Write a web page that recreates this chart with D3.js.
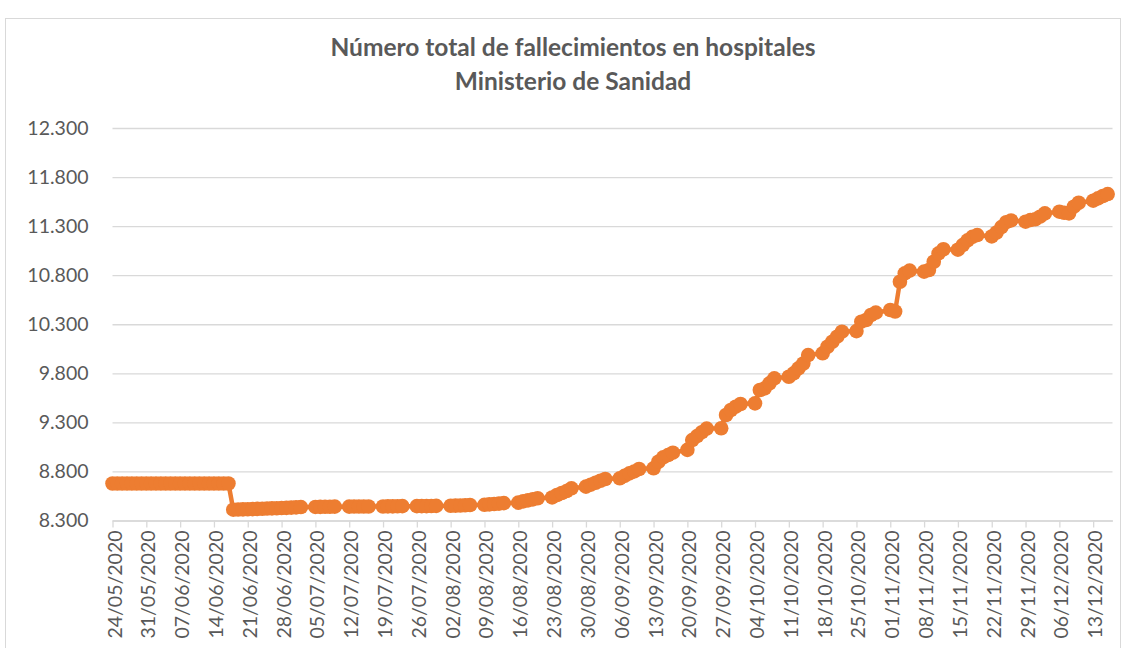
<!DOCTYPE html>
<html>
<head>
<meta charset="utf-8">
<script src="https://cdn.jsdelivr.net/npm/d3@7"></script>
<style>
  html, body { margin: 0; padding: 0; background: #fff; }
  svg { display: block; font-family: Lato, "Open Sans", sans-serif; }
</style>
</head>
<body>
<svg id="chart" width="1129" height="648"></svg>
<script>
'use strict';

const titulo = ["Número total de fallecimientos en hospitales", "Ministerio de Sanidad"];

// fechas con dato (a partir de julio solo de domingo a jueves)
const fechas = [
  "24/05/2020","25/05/2020","26/05/2020","27/05/2020","28/05/2020","29/05/2020","30/05/2020","31/05/2020",
  "01/06/2020","02/06/2020","03/06/2020","04/06/2020","05/06/2020","06/06/2020","07/06/2020","08/06/2020",
  "09/06/2020","10/06/2020","11/06/2020","12/06/2020","13/06/2020","14/06/2020","15/06/2020","16/06/2020",
  "17/06/2020","18/06/2020","19/06/2020","20/06/2020","21/06/2020","22/06/2020","23/06/2020","24/06/2020",
  "25/06/2020","26/06/2020","27/06/2020","28/06/2020","29/06/2020","30/06/2020","01/07/2020","02/07/2020",
  "05/07/2020","06/07/2020","07/07/2020","08/07/2020","09/07/2020",
  "12/07/2020","13/07/2020","14/07/2020","15/07/2020","16/07/2020",
  "19/07/2020","20/07/2020","21/07/2020","22/07/2020","23/07/2020",
  "26/07/2020","27/07/2020","28/07/2020","29/07/2020","30/07/2020",
  "02/08/2020","03/08/2020","04/08/2020","05/08/2020","06/08/2020",
  "09/08/2020","10/08/2020","11/08/2020","12/08/2020","13/08/2020",
  "16/08/2020","17/08/2020","18/08/2020","19/08/2020","20/08/2020",
  "23/08/2020","24/08/2020","25/08/2020","26/08/2020","27/08/2020",
  "30/08/2020","31/08/2020","01/09/2020","02/09/2020","03/09/2020",
  "06/09/2020","07/09/2020","08/09/2020","09/09/2020","10/09/2020",
  "13/09/2020","14/09/2020","15/09/2020","16/09/2020","17/09/2020",
  "20/09/2020","21/09/2020","22/09/2020","23/09/2020","24/09/2020",
  "27/09/2020","28/09/2020","29/09/2020","30/09/2020","01/10/2020",
  "04/10/2020","05/10/2020","06/10/2020","07/10/2020","08/10/2020",
  "11/10/2020","12/10/2020","13/10/2020","14/10/2020","15/10/2020",
  "18/10/2020","19/10/2020","20/10/2020","21/10/2020","22/10/2020",
  "25/10/2020","26/10/2020","27/10/2020","28/10/2020","29/10/2020",
  "01/11/2020","02/11/2020","03/11/2020","04/11/2020","05/11/2020",
  "08/11/2020","09/11/2020","10/11/2020","11/11/2020","12/11/2020",
  "15/11/2020","16/11/2020","17/11/2020","18/11/2020","19/11/2020",
  "22/11/2020","23/11/2020","24/11/2020","25/11/2020","26/11/2020",
  "29/11/2020","30/11/2020","01/12/2020","02/12/2020","03/12/2020",
  "06/12/2020","07/12/2020","08/12/2020","09/12/2020","10/12/2020",
  "13/12/2020","14/12/2020","15/12/2020","16/12/2020"
];

const fallecidos = [
  8677, 8677, 8677, 8677, 8677, 8677, 8677, 8677,
  8677, 8677, 8677, 8677, 8677, 8677, 8677, 8677,
  8677, 8677, 8677, 8677, 8677, 8677, 8677, 8677,
  8677, 8410, 8412, 8413, 8414, 8416, 8418, 8420,
  8422, 8424, 8425, 8427, 8429, 8431, 8434, 8437,
  8438, 8439, 8440, 8440, 8441,
  8441, 8442, 8442, 8443, 8443,
  8443, 8444, 8444, 8445, 8446,
  8446, 8447, 8447, 8448, 8449,
  8450, 8452, 8453, 8455, 8458,
  8460, 8464, 8468, 8472, 8477,
  8482, 8495, 8505, 8515, 8527,
  8535, 8560, 8580, 8600, 8628,
  8645, 8665, 8685, 8705, 8723,
  8730, 8755, 8780, 8800, 8825,
  8832, 8899, 8944, 8967, 8991,
  9020, 9120, 9160, 9200, 9237,
  9240, 9375, 9426, 9460, 9487,
  9494, 9630, 9647, 9698, 9749,
  9765, 9800, 9850, 9900, 9986,
  10004, 10071, 10122, 10173, 10224,
  10230, 10326, 10343, 10394, 10418,
  10445, 10430, 10733, 10819, 10846,
  10836, 10853, 10937, 11023, 11064,
  11060, 11107, 11155, 11190, 11209,
  11195, 11235, 11290, 11340, 11358,
  11345, 11362, 11370, 11396, 11430,
  11447, 11436, 11430, 11498, 11538,
  11559, 11583, 11607, 11627
];

const ticksX = [
  "24/05/2020","31/05/2020","07/06/2020","14/06/2020","21/06/2020","28/06/2020",
  "05/07/2020","12/07/2020","19/07/2020","26/07/2020","02/08/2020","09/08/2020",
  "16/08/2020","23/08/2020","30/08/2020","06/09/2020","13/09/2020","20/09/2020",
  "27/09/2020","04/10/2020","11/10/2020","18/10/2020","25/10/2020","01/11/2020",
  "08/11/2020","15/11/2020","22/11/2020","29/11/2020","06/12/2020","13/12/2020"
];
const ticksY = [8300, 8800, 9300, 9800, 10300, 10800, 11300, 11800, 12300];
const rangoFechas = ["24/05/2020", "17/12/2020"];

const parse = d3.timeParse("%d/%m/%Y");
const fmtFecha = d3.timeFormat("%d/%m/%Y");
const fmtNum = d3.formatLocale({ decimal: ",", thousands: ".", grouping: [3], currency: ["", "€"] }).format(",d");

const datos = fechas.map((f, i) => ({ fecha: parse(f), valor: fallecidos[i] }));

const svg = d3.select("#chart");
const gris = "#595959";
const rejilla = "#D9D9D9";
const naranja = "#ED7D31";

// marco del gráfico
svg.append("rect")
  .attr("x", 5.5).attr("y", 18.5)
  .attr("width", 1115).attr("height", 640)
  .attr("fill", "#fff")
  .attr("stroke", rejilla)
  .attr("stroke-width", 1);

const x = d3.scaleTime().domain(rangoFechas.map(parse)).range([112.5, 1112.5]);
const y = d3.scaleLinear().domain([8300, 12300]).range([520.5, 128]);

// título
svg.append("text")
  .attr("x", 573).attr("y", 56)
  .attr("text-anchor", "middle")
  .attr("fill", gris)
  .style("font-size", "24.5px")
  .style("font-weight", "bold")
  .selectAll("tspan")
  .data(titulo)
  .enter()
  .append("tspan")
  .attr("x", 573)
  .attr("dy", (d, i) => i === 0 ? 0 : 34)
  .text(d => d);

// eje Y con líneas de rejilla
const ejeY = svg.append("g")
  .attr("transform", "translate(112.5,0)")
  .call(d3.axisLeft(y).tickValues(ticksY).tickSize(-1000).tickPadding(24).tickFormat(fmtNum));
ejeY.select(".domain").remove();
ejeY.selectAll(".tick line").attr("stroke", rejilla).attr("stroke-width", 1.3);
ejeY.selectAll(".tick text")
  .attr("fill", gris)
  .style("font-family", "Lato, sans-serif")
  .style("font-size", "19.5px");

// eje X
const ejeX = svg.append("g")
  .attr("transform", "translate(0,520.5)")
  .call(d3.axisBottom(x).tickValues(ticksX.map(parse)).tickSize(7).tickSizeOuter(0).tickFormat(fmtFecha));
ejeX.select(".domain").attr("stroke", rejilla).attr("stroke-width", 1.3);
ejeX.selectAll(".tick line").attr("stroke", rejilla).attr("stroke-width", 1.3);
ejeX.selectAll(".tick text")
  .attr("fill", gris)
  .style("font-family", "Lato, sans-serif")
  .style("font-size", "19.5px")
  .attr("text-anchor", "end")
  .attr("dominant-baseline", "central")
  .attr("transform", "rotate(-90)")
  .attr("x", -10)
  .attr("y", 1)
  .attr("dy", null);

// serie
const linea = d3.line().x(d => x(d.fecha)).y(d => y(d.valor));
svg.append("path")
  .datum(datos)
  .attr("fill", "none")
  .attr("stroke", naranja)
  .attr("stroke-width", 4.5)
  .attr("stroke-linejoin", "round")
  .attr("d", linea);

svg.append("g")
  .selectAll("circle")
  .data(datos)
  .enter()
  .append("circle")
  .attr("cx", d => x(d.fecha))
  .attr("cy", d => y(d.valor))
  .attr("r", 7.3)
  .attr("fill", naranja);
</script>
</body>
</html>
